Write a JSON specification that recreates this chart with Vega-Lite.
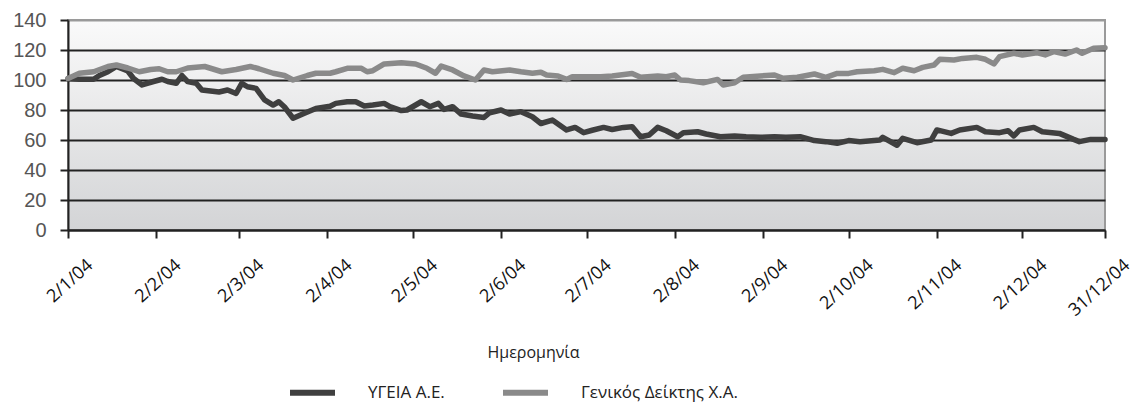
{
  "$schema": "https://vega.github.io/schema/vega-lite/v6.json",
  "width": 1037,
  "height": 210,
  "autosize": {"type": "none"},
  "padding": {"left": 68, "top": 20, "right": 29, "bottom": 174},
  "background": "white",
  "config": {
    "view": {
      "stroke": "#9a9a9a",
      "strokeWidth": 2,
      "fill": {"gradient": "linear", "x1": 0, "y1": 0, "x2": 0, "y2": 1, "stops": [{"offset": 0, "color": "#fafafa"}, {"offset": 1, "color": "#d3d4d6"}]}
    }
  },
  "data": {
    "values": [
      {"d": "2004-01-02", "s": "ΥΓΕΙΑ Α.Ε.", "v": 101},
      {"d": "2004-01-06", "s": "ΥΓΕΙΑ Α.Ε.", "v": 100.5},
      {"d": "2004-01-11", "s": "ΥΓΕΙΑ Α.Ε.", "v": 100.5},
      {"d": "2004-01-13", "s": "ΥΓΕΙΑ Α.Ε.", "v": 103},
      {"d": "2004-01-16", "s": "ΥΓΕΙΑ Α.Ε.", "v": 105.5},
      {"d": "2004-01-19", "s": "ΥΓΕΙΑ Α.Ε.", "v": 109},
      {"d": "2004-01-23", "s": "ΥΓΕΙΑ Α.Ε.", "v": 106},
      {"d": "2004-01-25", "s": "ΥΓΕΙΑ Α.Ε.", "v": 101},
      {"d": "2004-01-28", "s": "ΥΓΕΙΑ Α.Ε.", "v": 96.7},
      {"d": "2004-02-01", "s": "ΥΓΕΙΑ Α.Ε.", "v": 99},
      {"d": "2004-02-04", "s": "ΥΓΕΙΑ Α.Ε.", "v": 100.5},
      {"d": "2004-02-06", "s": "ΥΓΕΙΑ Α.Ε.", "v": 99},
      {"d": "2004-02-09", "s": "ΥΓΕΙΑ Α.Ε.", "v": 97.8},
      {"d": "2004-02-11", "s": "ΥΓΕΙΑ Α.Ε.", "v": 103},
      {"d": "2004-02-13", "s": "ΥΓΕΙΑ Α.Ε.", "v": 98.9},
      {"d": "2004-02-16", "s": "ΥΓΕΙΑ Α.Ε.", "v": 97.8},
      {"d": "2004-02-18", "s": "ΥΓΕΙΑ Α.Ε.", "v": 93.3},
      {"d": "2004-02-24", "s": "ΥΓΕΙΑ Α.Ε.", "v": 92},
      {"d": "2004-02-27", "s": "ΥΓΕΙΑ Α.Ε.", "v": 93.3},
      {"d": "2004-03-01", "s": "ΥΓΕΙΑ Α.Ε.", "v": 91},
      {"d": "2004-03-03", "s": "ΥΓΕΙΑ Α.Ε.", "v": 97.8},
      {"d": "2004-03-05", "s": "ΥΓΕΙΑ Α.Ε.", "v": 95.5},
      {"d": "2004-03-08", "s": "ΥΓΕΙΑ Α.Ε.", "v": 94.4},
      {"d": "2004-03-11", "s": "ΥΓΕΙΑ Α.Ε.", "v": 86.7},
      {"d": "2004-03-14", "s": "ΥΓΕΙΑ Α.Ε.", "v": 83.3},
      {"d": "2004-03-16", "s": "ΥΓΕΙΑ Α.Ε.", "v": 85.5},
      {"d": "2004-03-18", "s": "ΥΓΕΙΑ Α.Ε.", "v": 82},
      {"d": "2004-03-21", "s": "ΥΓΕΙΑ Α.Ε.", "v": 74.5},
      {"d": "2004-03-25", "s": "ΥΓΕΙΑ Α.Ε.", "v": 77.8},
      {"d": "2004-03-29", "s": "ΥΓΕΙΑ Α.Ε.", "v": 81},
      {"d": "2004-04-03", "s": "ΥΓΕΙΑ Α.Ε.", "v": 82.5},
      {"d": "2004-04-05", "s": "ΥΓΕΙΑ Α.Ε.", "v": 84.4},
      {"d": "2004-04-09", "s": "ΥΓΕΙΑ Α.Ε.", "v": 85.5},
      {"d": "2004-04-12", "s": "ΥΓΕΙΑ Α.Ε.", "v": 85.5},
      {"d": "2004-04-15", "s": "ΥΓΕΙΑ Α.Ε.", "v": 82.7},
      {"d": "2004-04-18", "s": "ΥΓΕΙΑ Α.Ε.", "v": 83.3},
      {"d": "2004-04-22", "s": "ΥΓΕΙΑ Α.Ε.", "v": 84.4},
      {"d": "2004-04-24", "s": "ΥΓΕΙΑ Α.Ε.", "v": 82.2},
      {"d": "2004-04-28", "s": "ΥΓΕΙΑ Α.Ε.", "v": 79.6},
      {"d": "2004-04-30", "s": "ΥΓΕΙΑ Α.Ε.", "v": 80},
      {"d": "2004-05-05", "s": "ΥΓΕΙΑ Α.Ε.", "v": 85.5},
      {"d": "2004-05-08", "s": "ΥΓΕΙΑ Α.Ε.", "v": 82.2},
      {"d": "2004-05-11", "s": "ΥΓΕΙΑ Α.Ε.", "v": 84.4},
      {"d": "2004-05-13", "s": "ΥΓΕΙΑ Α.Ε.", "v": 80.4},
      {"d": "2004-05-16", "s": "ΥΓΕΙΑ Α.Ε.", "v": 82.2},
      {"d": "2004-05-19", "s": "ΥΓΕΙΑ Α.Ε.", "v": 77.3},
      {"d": "2004-05-23", "s": "ΥΓΕΙΑ Α.Ε.", "v": 76},
      {"d": "2004-05-27", "s": "ΥΓΕΙΑ Α.Ε.", "v": 75},
      {"d": "2004-05-29", "s": "ΥΓΕΙΑ Α.Ε.", "v": 78.2},
      {"d": "2004-06-02", "s": "ΥΓΕΙΑ Α.Ε.", "v": 80},
      {"d": "2004-06-05", "s": "ΥΓΕΙΑ Α.Ε.", "v": 77.3},
      {"d": "2004-06-09", "s": "ΥΓΕΙΑ Α.Ε.", "v": 78.9},
      {"d": "2004-06-13", "s": "ΥΓΕΙΑ Α.Ε.", "v": 75.5},
      {"d": "2004-06-16", "s": "ΥΓΕΙΑ Α.Ε.", "v": 71},
      {"d": "2004-06-20", "s": "ΥΓΕΙΑ Α.Ε.", "v": 73.3},
      {"d": "2004-06-25", "s": "ΥΓΕΙΑ Α.Ε.", "v": 66.7},
      {"d": "2004-06-28", "s": "ΥΓΕΙΑ Α.Ε.", "v": 68.4},
      {"d": "2004-07-01", "s": "ΥΓΕΙΑ Α.Ε.", "v": 64.9},
      {"d": "2004-07-04", "s": "ΥΓΕΙΑ Α.Ε.", "v": 66.5},
      {"d": "2004-07-08", "s": "ΥΓΕΙΑ Α.Ε.", "v": 68.4},
      {"d": "2004-07-11", "s": "ΥΓΕΙΑ Α.Ε.", "v": 67},
      {"d": "2004-07-15", "s": "ΥΓΕΙΑ Α.Ε.", "v": 68.4},
      {"d": "2004-07-18", "s": "ΥΓΕΙΑ Α.Ε.", "v": 68.9},
      {"d": "2004-07-21", "s": "ΥΓΕΙΑ Α.Ε.", "v": 62.2},
      {"d": "2004-07-24", "s": "ΥΓΕΙΑ Α.Ε.", "v": 63.3},
      {"d": "2004-07-27", "s": "ΥΓΕΙΑ Α.Ε.", "v": 68.4},
      {"d": "2004-07-30", "s": "ΥΓΕΙΑ Α.Ε.", "v": 66.2},
      {"d": "2004-08-03", "s": "ΥΓΕΙΑ Α.Ε.", "v": 62.2},
      {"d": "2004-08-05", "s": "ΥΓΕΙΑ Α.Ε.", "v": 64.9},
      {"d": "2004-08-10", "s": "ΥΓΕΙΑ Α.Ε.", "v": 65.5},
      {"d": "2004-08-13", "s": "ΥΓΕΙΑ Α.Ε.", "v": 64},
      {"d": "2004-08-18", "s": "ΥΓΕΙΑ Α.Ε.", "v": 62.2},
      {"d": "2004-08-23", "s": "ΥΓΕΙΑ Α.Ε.", "v": 62.7},
      {"d": "2004-08-27", "s": "ΥΓΕΙΑ Α.Ε.", "v": 62.2},
      {"d": "2004-09-01", "s": "ΥΓΕΙΑ Α.Ε.", "v": 61.8},
      {"d": "2004-09-06", "s": "ΥΓΕΙΑ Α.Ε.", "v": 62.2},
      {"d": "2004-09-10", "s": "ΥΓΕΙΑ Α.Ε.", "v": 61.8},
      {"d": "2004-09-15", "s": "ΥΓΕΙΑ Α.Ε.", "v": 62.2},
      {"d": "2004-09-20", "s": "ΥΓΕΙΑ Α.Ε.", "v": 59.6},
      {"d": "2004-09-24", "s": "ΥΓΕΙΑ Α.Ε.", "v": 58.9},
      {"d": "2004-09-28", "s": "ΥΓΕΙΑ Α.Ε.", "v": 57.8},
      {"d": "2004-10-02", "s": "ΥΓΕΙΑ Α.Ε.", "v": 59.6},
      {"d": "2004-10-06", "s": "ΥΓΕΙΑ Α.Ε.", "v": 58.9},
      {"d": "2004-10-13", "s": "ΥΓΕΙΑ Α.Ε.", "v": 60},
      {"d": "2004-10-14", "s": "ΥΓΕΙΑ Α.Ε.", "v": 61.8},
      {"d": "2004-10-19", "s": "ΥΓΕΙΑ Α.Ε.", "v": 56.5},
      {"d": "2004-10-21", "s": "ΥΓΕΙΑ Α.Ε.", "v": 61.1},
      {"d": "2004-10-26", "s": "ΥΓΕΙΑ Α.Ε.", "v": 58.2},
      {"d": "2004-10-31", "s": "ΥΓΕΙΑ Α.Ε.", "v": 60},
      {"d": "2004-11-02", "s": "ΥΓΕΙΑ Α.Ε.", "v": 66.7},
      {"d": "2004-11-07", "s": "ΥΓΕΙΑ Α.Ε.", "v": 64.4},
      {"d": "2004-11-10", "s": "ΥΓΕΙΑ Α.Ε.", "v": 66.7},
      {"d": "2004-11-16", "s": "ΥΓΕΙΑ Α.Ε.", "v": 68.4},
      {"d": "2004-11-19", "s": "ΥΓΕΙΑ Α.Ε.", "v": 65.5},
      {"d": "2004-11-24", "s": "ΥΓΕΙΑ Α.Ε.", "v": 64.9},
      {"d": "2004-11-27", "s": "ΥΓΕΙΑ Α.Ε.", "v": 66.2},
      {"d": "2004-11-29", "s": "ΥΓΕΙΑ Α.Ε.", "v": 62.7},
      {"d": "2004-12-01", "s": "ΥΓΕΙΑ Α.Ε.", "v": 66.7},
      {"d": "2004-12-06", "s": "ΥΓΕΙΑ Α.Ε.", "v": 68.4},
      {"d": "2004-12-09", "s": "ΥΓΕΙΑ Α.Ε.", "v": 65.5},
      {"d": "2004-12-15", "s": "ΥΓΕΙΑ Α.Ε.", "v": 64.4},
      {"d": "2004-12-20", "s": "ΥΓΕΙΑ Α.Ε.", "v": 60.4},
      {"d": "2004-12-22", "s": "ΥΓΕΙΑ Α.Ε.", "v": 58.9},
      {"d": "2004-12-26", "s": "ΥΓΕΙΑ Α.Ε.", "v": 60.4},
      {"d": "2004-12-31", "s": "ΥΓΕΙΑ Α.Ε.", "v": 60.4},
      {"d": "2004-01-02", "s": "Γενικός Δείκτης Χ.Α.", "v": 101},
      {"d": "2004-01-06", "s": "Γενικός Δείκτης Χ.Α.", "v": 104.5},
      {"d": "2004-01-11", "s": "Γενικός Δείκτης Χ.Α.", "v": 105.5},
      {"d": "2004-01-16", "s": "Γενικός Δείκτης Χ.Α.", "v": 109},
      {"d": "2004-01-19", "s": "Γενικός Δείκτης Χ.Α.", "v": 110},
      {"d": "2004-01-23", "s": "Γενικός Δείκτης Χ.Α.", "v": 108},
      {"d": "2004-01-27", "s": "Γενικός Δείκτης Χ.Α.", "v": 105.5},
      {"d": "2004-01-31", "s": "Γενικός Δείκτης Χ.Α.", "v": 107},
      {"d": "2004-02-03", "s": "Γενικός Δείκτης Χ.Α.", "v": 107.5},
      {"d": "2004-02-06", "s": "Γενικός Δείκτης Χ.Α.", "v": 105.5},
      {"d": "2004-02-09", "s": "Γενικός Δείκτης Χ.Α.", "v": 105.5},
      {"d": "2004-02-13", "s": "Γενικός Δείκτης Χ.Α.", "v": 108},
      {"d": "2004-02-19", "s": "Γενικός Δείκτης Χ.Α.", "v": 109},
      {"d": "2004-02-25", "s": "Γενικός Δείκτης Χ.Α.", "v": 105.5},
      {"d": "2004-03-01", "s": "Γενικός Δείκτης Χ.Α.", "v": 107},
      {"d": "2004-03-06", "s": "Γενικός Δείκτης Χ.Α.", "v": 109},
      {"d": "2004-03-09", "s": "Γενικός Δείκτης Χ.Α.", "v": 107.5},
      {"d": "2004-03-14", "s": "Γενικός Δείκτης Χ.Α.", "v": 104.5},
      {"d": "2004-03-18", "s": "Γενικός Δείκτης Χ.Α.", "v": 103},
      {"d": "2004-03-21", "s": "Γενικός Δείκτης Χ.Α.", "v": 100},
      {"d": "2004-03-26", "s": "Γενικός Δείκτης Χ.Α.", "v": 103},
      {"d": "2004-03-29", "s": "Γενικός Δείκτης Χ.Α.", "v": 104.5},
      {"d": "2004-04-03", "s": "Γενικός Δείκτης Χ.Α.", "v": 104.5},
      {"d": "2004-04-05", "s": "Γενικός Δείκτης Χ.Α.", "v": 105.5},
      {"d": "2004-04-09", "s": "Γενικός Δείκτης Χ.Α.", "v": 107.8},
      {"d": "2004-04-14", "s": "Γενικός Δείκτης Χ.Α.", "v": 107.8},
      {"d": "2004-04-16", "s": "Γενικός Δείκτης Χ.Α.", "v": 105.5},
      {"d": "2004-04-18", "s": "Γενικός Δείκτης Χ.Α.", "v": 106.2},
      {"d": "2004-04-22", "s": "Γενικός Δείκτης Χ.Α.", "v": 110.7},
      {"d": "2004-04-28", "s": "Γενικός Δείκτης Χ.Α.", "v": 111.5},
      {"d": "2004-05-03", "s": "Γενικός Δείκτης Χ.Α.", "v": 110.7},
      {"d": "2004-05-07", "s": "Γενικός Δείκτης Χ.Α.", "v": 107.8},
      {"d": "2004-05-10", "s": "Γενικός Δείκτης Χ.Α.", "v": 104.5},
      {"d": "2004-05-12", "s": "Γενικός Δείκτης Χ.Α.", "v": 109.3},
      {"d": "2004-05-16", "s": "Γενικός Δείκτης Χ.Α.", "v": 106.7},
      {"d": "2004-05-20", "s": "Γενικός Δείκτης Χ.Α.", "v": 102.7},
      {"d": "2004-05-24", "s": "Γενικός Δείκτης Χ.Α.", "v": 100},
      {"d": "2004-05-27", "s": "Γενικός Δείκτης Χ.Α.", "v": 106.7},
      {"d": "2004-05-30", "s": "Γενικός Δείκτης Χ.Α.", "v": 105.5},
      {"d": "2004-06-05", "s": "Γενικός Δείκτης Χ.Α.", "v": 106.7},
      {"d": "2004-06-09", "s": "Γενικός Δείκτης Χ.Α.", "v": 105.5},
      {"d": "2004-06-13", "s": "Γενικός Δείκτης Χ.Α.", "v": 104.5},
      {"d": "2004-06-16", "s": "Γενικός Δείκτης Χ.Α.", "v": 105.2},
      {"d": "2004-06-18", "s": "Γενικός Δείκτης Χ.Α.", "v": 103.3},
      {"d": "2004-06-22", "s": "Γενικός Δείκτης Χ.Α.", "v": 102.7},
      {"d": "2004-06-25", "s": "Γενικός Δείκτης Χ.Α.", "v": 100.4},
      {"d": "2004-06-27", "s": "Γενικός Δείκτης Χ.Α.", "v": 102.2},
      {"d": "2004-07-03", "s": "Γενικός Δείκτης Χ.Α.", "v": 102.2},
      {"d": "2004-07-07", "s": "Γενικός Δείκτης Χ.Α.", "v": 102.2},
      {"d": "2004-07-11", "s": "Γενικός Δείκτης Χ.Α.", "v": 102.7},
      {"d": "2004-07-18", "s": "Γενικός Δείκτης Χ.Α.", "v": 104.4},
      {"d": "2004-07-21", "s": "Γενικός Δείκτης Χ.Α.", "v": 101.8},
      {"d": "2004-07-27", "s": "Γενικός Δείκτης Χ.Α.", "v": 102.7},
      {"d": "2004-07-30", "s": "Γενικός Δείκτης Χ.Α.", "v": 102.2},
      {"d": "2004-08-02", "s": "Γενικός Δείκτης Χ.Α.", "v": 103.3},
      {"d": "2004-08-04", "s": "Γενικός Δείκτης Χ.Α.", "v": 100},
      {"d": "2004-08-07", "s": "Γενικός Δείκτης Χ.Α.", "v": 99.6},
      {"d": "2004-08-12", "s": "Γενικός Δείκτης Χ.Α.", "v": 98.2},
      {"d": "2004-08-17", "s": "Γενικός Δείκτης Χ.Α.", "v": 100.4},
      {"d": "2004-08-19", "s": "Γενικός Δείκτης Χ.Α.", "v": 96.7},
      {"d": "2004-08-23", "s": "Γενικός Δείκτης Χ.Α.", "v": 98.2},
      {"d": "2004-08-26", "s": "Γενικός Δείκτης Χ.Α.", "v": 101.8},
      {"d": "2004-09-01", "s": "Γενικός Δείκτης Χ.Α.", "v": 102.7},
      {"d": "2004-09-06", "s": "Γενικός Δείκτης Χ.Α.", "v": 103.3},
      {"d": "2004-09-09", "s": "Γενικός Δείκτης Χ.Α.", "v": 101.1},
      {"d": "2004-09-14", "s": "Γενικός Δείκτης Χ.Α.", "v": 101.8},
      {"d": "2004-09-20", "s": "Γενικός Δείκτης Χ.Α.", "v": 104},
      {"d": "2004-09-24", "s": "Γενικός Δείκτης Χ.Α.", "v": 101.8},
      {"d": "2004-09-28", "s": "Γενικός Δείκτης Χ.Α.", "v": 104.4},
      {"d": "2004-10-02", "s": "Γενικός Δείκτης Χ.Α.", "v": 104.4},
      {"d": "2004-10-05", "s": "Γενικός Δείκτης Χ.Α.", "v": 105.5},
      {"d": "2004-10-11", "s": "Γενικός Δείκτης Χ.Α.", "v": 106.2},
      {"d": "2004-10-14", "s": "Γενικός Δείκτης Χ.Α.", "v": 107.1},
      {"d": "2004-10-18", "s": "Γενικός Δείκτης Χ.Α.", "v": 104.9},
      {"d": "2004-10-21", "s": "Γενικός Δείκτης Χ.Α.", "v": 107.8},
      {"d": "2004-10-25", "s": "Γενικός Δείκτης Χ.Α.", "v": 106.2},
      {"d": "2004-10-28", "s": "Γενικός Δείκτης Χ.Α.", "v": 108.4},
      {"d": "2004-11-01", "s": "Γενικός Δείκτης Χ.Α.", "v": 110},
      {"d": "2004-11-03", "s": "Γενικός Δείκτης Χ.Α.", "v": 113.8},
      {"d": "2004-11-08", "s": "Γενικός Δείκτης Χ.Α.", "v": 113.3},
      {"d": "2004-11-11", "s": "Γενικός Δείκτης Χ.Α.", "v": 114.4},
      {"d": "2004-11-16", "s": "Γενικός Δείκτης Χ.Α.", "v": 115.1},
      {"d": "2004-11-19", "s": "Γενικός Δείκτης Χ.Α.", "v": 113.8},
      {"d": "2004-11-22", "s": "Γενικός Δείκτης Χ.Α.", "v": 110.7},
      {"d": "2004-11-24", "s": "Γενικός Δείκτης Χ.Α.", "v": 115.6},
      {"d": "2004-11-29", "s": "Γενικός Δείκτης Χ.Α.", "v": 117.8},
      {"d": "2004-12-02", "s": "Γενικός Δείκτης Χ.Α.", "v": 116.7},
      {"d": "2004-12-07", "s": "Γενικός Δείκτης Χ.Α.", "v": 118.2},
      {"d": "2004-12-10", "s": "Γενικός Δείκτης Χ.Α.", "v": 116.7},
      {"d": "2004-12-13", "s": "Γενικός Δείκτης Χ.Α.", "v": 118.9},
      {"d": "2004-12-17", "s": "Γενικός Δείκτης Χ.Α.", "v": 117.3},
      {"d": "2004-12-21", "s": "Γενικός Δείκτης Χ.Α.", "v": 120},
      {"d": "2004-12-23", "s": "Γενικός Δείκτης Χ.Α.", "v": 117.8},
      {"d": "2004-12-27", "s": "Γενικός Δείκτης Χ.Α.", "v": 121.1},
      {"d": "2004-12-31", "s": "Γενικός Δείκτης Χ.Α.", "v": 121.5}
    ]
  },
  "mark": {"type": "line", "strokeWidth": 5.5, "strokeJoin": "round", "strokeCap": "round"},
  "encoding": {
    "x": {
      "field": "d",
      "type": "temporal",
      "scale": {
        "type": "utc",
        "nice": false,
        "domain": [{"year": 2004, "month": 1, "date": 2, "utc": true}, {"year": 2004, "month": 12, "date": 31, "utc": true}]
      },
      "axis": {
        "values": [
          {"year": 2004, "month": 1, "date": 2, "utc": true},
          {"year": 2004, "month": 2, "date": 2, "utc": true},
          {"year": 2004, "month": 3, "date": 2, "utc": true},
          {"year": 2004, "month": 4, "date": 2, "utc": true},
          {"year": 2004, "month": 5, "date": 2, "utc": true},
          {"year": 2004, "month": 6, "date": 2, "utc": true},
          {"year": 2004, "month": 7, "date": 2, "utc": true},
          {"year": 2004, "month": 8, "date": 2, "utc": true},
          {"year": 2004, "month": 9, "date": 2, "utc": true},
          {"year": 2004, "month": 10, "date": 2, "utc": true},
          {"year": 2004, "month": 11, "date": 2, "utc": true},
          {"year": 2004, "month": 12, "date": 2, "utc": true},
          {"year": 2004, "month": 12, "date": 31, "utc": true}
        ],
        "labelExpr": "utcFormat(datum.value, '%-d/%-m/%y')",
        "labelAngle": -42,
        "labelFont": "Open Sans",
        "labelFontSize": 18,
        "labelColor": "#111111",
        "labelPadding": 18,
        "labelOffset": 16,
        "labelOverlap": false,
        "labelFlush": false,
        "labelBound": false,
        "tickSize": 8,
        "tickWidth": 2,
        "tickColor": "#222222",
        "domainColor": "#222222",
        "domainWidth": 2,
        "grid": false,
        "title": "Ημερομηνία",
        "titleFont": "Open Sans",
        "titleFontSize": 16,
        "titleFontWeight": "normal",
        "titleColor": "#222222",
        "titleX": 465,
        "titleY": 122,
        "titleBaseline": "middle",
        "titleAlign": "center"
      }
    },
    "y": {
      "field": "v",
      "type": "quantitative",
      "scale": {"domain": [0, 140], "nice": false},
      "axis": {
        "values": [0, 20, 40, 60, 80, 100, 120, 140],
        "title": null,
        "grid": true,
        "gridColor": {"condition": {"test": "datum.value == 140", "value": "#9a9a9a"}, "value": "#222222"},
        "gridWidth": 2,
        "domainColor": "#222222",
        "domainWidth": 2,
        "tickSize": 8,
        "tickWidth": 2,
        "tickColor": "#222222",
        "labelFont": "Liberation Sans",
        "labelFontSize": 20,
        "labelColor": "#555555",
        "labelPadding": 14
      }
    },
    "color": {
      "field": "s",
      "type": "nominal",
      "sort": ["ΥΓΕΙΑ Α.Ε.", "Γενικός Δείκτης Χ.Α."],
      "scale": {"domain": ["ΥΓΕΙΑ Α.Ε.", "Γενικός Δείκτης Χ.Α."], "range": ["#3f3f3f", "#8a8a8a"]},
      "legend": {
        "title": null,
        "orient": "none",
        "direction": "horizontal",
        "legendX": 219,
        "legendY": 347,
        "symbolType": "stroke",
        "symbolSize": 2025,
        "symbolStrokeWidth": 6,
        "labelFont": "Open Sans",
        "labelFontSize": 17,
        "labelColor": "#222222",
        "labelOffset": 30,
        "columnPadding": 46
      }
    }
  }
}
